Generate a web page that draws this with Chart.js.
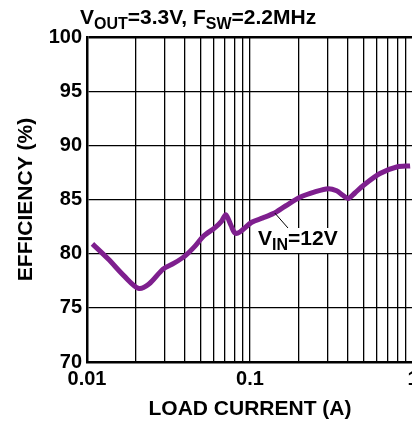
<!DOCTYPE html>
<html>
<head>
<meta charset="utf-8">
<script src="https://cdn.jsdelivr.net/npm/chart.js@4/dist/chart.umd.min.js"></script>
<style>
  html, body { margin: 0; padding: 0; background: #fff; overflow: hidden; }
  #wrap { width: 412px; height: 426px; overflow: hidden; position: relative; }
  canvas { position: absolute; left: 0; top: 0; }
</style>
</head>
<body>
<div id="wrap">
  <canvas id="chart" width="424" height="426"></canvas>
</div>
<script>
// load current (A) and efficiency (%), VIN = 12V
const loadCurrent = [0.0108, 0.0135, 0.017, 0.0207, 0.024, 0.0294, 0.034, 0.04, 0.046, 0.0517, 0.061, 0.067, 0.071, 0.0765, 0.0809, 0.0866, 0.1024, 0.12, 0.139, 0.165, 0.2026, 0.25, 0.302, 0.34, 0.37, 0.401, 0.44, 0.4955, 0.627, 0.794, 0.96];
const efficiency = [80.9, 79.5, 77.9, 76.8, 77.2, 78.6, 79.1, 79.8, 80.7, 81.6, 82.4, 83.0, 83.6, 82.6, 81.9, 82.0, 82.9, 83.3, 83.7, 84.4, 85.2, 85.7, 86.0, 85.8, 85.4, 85.1, 85.6, 86.3, 87.4, 88.0, 88.1];

// log grid lines and labelled decades
const xGridValues = [0.01, 0.02, 0.03, 0.04, 0.05, 0.06, 0.07, 0.08, 0.09, 0.1, 0.2, 0.3, 0.4, 0.5, 0.6, 0.7, 0.8, 0.9, 1];
const xTickLabels = ["0.01", "0.1", "1"];
const yTicks = [70, 75, 80, 85, 90, 95, 100];

const FONT = "'Liberation Sans', Arial, sans-serif";

// draws text pieces with subscripts: [[text, isSub], ...]
function drawSubText(ctx, parts, x, y, size, subSize) {
  ctx.save();
  ctx.fillStyle = "#000";
  ctx.textBaseline = "alphabetic";
  ctx.textAlign = "left";
  parts.forEach(([txt, sub]) => {
    ctx.font = "bold " + (sub ? subSize : size) + "px " + FONT;
    ctx.fillText(txt, x, sub ? y + 5 : y);
    x += ctx.measureText(txt).width;
  });
  ctx.restore();
  return x;
}

const labelsPlugin = {
  id: "labels",
  afterDraw(chart) {
    const ctx = chart.ctx;
    const xs = chart.scales.x, ys = chart.scales.y;

    // title
    drawSubText(ctx, [["V", false], ["OUT", true], ["=3.3V, F", false], ["SW", true], ["=2.2MHz", false]], 80, 24, 21, 16);

    // VIN=12V label with white box and leader line
    const lx = xs.getPixelForValue(0.112);
    const ly = ys.getPixelForValue(80.8);
    ctx.save();
    ctx.fillStyle = "#fff";
    ctx.fillRect(lx - 3, ly - 17, 87, 25);
    ctx.strokeStyle = "#000";
    ctx.lineWidth = 1;
    ctx.beginPath();
    ctx.moveTo(xs.getPixelForValue(0.142), ys.getPixelForValue(83.75));
    ctx.lineTo(xs.getPixelForValue(0.171), ys.getPixelForValue(82.37));
    ctx.stroke();
    ctx.restore();
    drawSubText(ctx, [["V", false], ["IN", true], ["=12V", false]], lx, ly, 21, 16);
  }
};

new Chart(document.getElementById("chart"), {
  type: "line",
  data: {
    datasets: [{
      data: loadCurrent.map((x, i) => ({ x: x, y: efficiency[i] })),
      borderColor: "#7e1f8e",
      borderWidth: 5,
      pointRadius: 0,
      tension: 0.3,
      fill: false
    }]
  },
  options: {
    responsive: false,
    animation: false,
    layout: { padding: { top: 37, right: 11, left: 0, bottom: 0 } },
    plugins: { legend: { display: false }, tooltip: { enabled: false } },
    scales: {
      x: {
        type: "logarithmic",
        min: 0.01,
        max: 1,
        afterBuildTicks: (scale) => { scale.ticks = xGridValues.map(v => ({ value: v })); },
        afterFit: (scale) => { scale.height = 64; },
        ticks: {
          autoSkip: false,
          maxRotation: 0,
          padding: 5,
          color: "#000",
          font: { family: FONT, size: 20, weight: "bold" },
          callback: (v) => {
            const s = String(Number(v.toPrecision(3)));
            return xTickLabels.includes(s) ? s : "";
          }
        },
        grid: { color: "#000", lineWidth: 1.3, drawTicks: false },
        border: { color: "#000", width: 2.5 },
        title: {
          display: true,
          text: "LOAD CURRENT (A)",
          color: "#000",
          font: { family: FONT, size: 21, weight: "bold" },
          padding: { top: 0, bottom: 4 }
        }
      },
      y: {
        min: 70,
        max: 100,
        afterBuildTicks: (scale) => { scale.ticks = yTicks.map(v => ({ value: v })); },
        afterFit: (scale) => { scale.width = 87; },
        ticks: {
          padding: 5,
          color: "#000",
          font: { family: FONT, size: 20, weight: "bold" }
        },
        grid: {
          color: "#000",
          drawTicks: false,
          lineWidth: (c) => (c.tick && c.tick.value === 100 ? 2.5 : 1.3)
        },
        border: { color: "#000", width: 2.5 },
        title: {
          display: true,
          text: "EFFICIENCY (%)",
          color: "#000",
          font: { family: FONT, size: 21, weight: "bold" },
          padding: { top: 14, bottom: 0 }
        }
      }
    }
  },
  plugins: [labelsPlugin]
});
</script>
</body>
</html>
